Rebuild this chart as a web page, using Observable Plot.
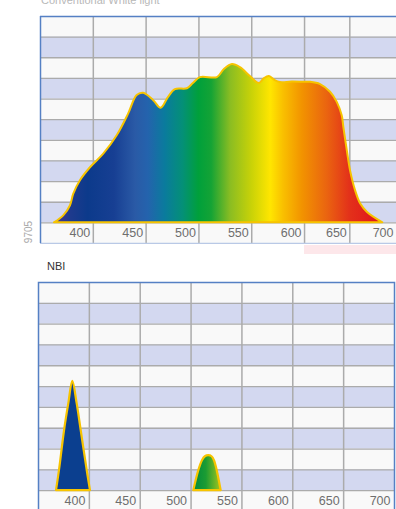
<!DOCTYPE html>
<html><head><meta charset="utf-8">
<script src="https://cdn.jsdelivr.net/npm/d3@7"></script>
<script src="https://cdn.jsdelivr.net/npm/@observablehq/plot@0.6"></script>
<style>
html,body{margin:0;padding:0;background:#fff;width:396px;height:509px;overflow:hidden;font-family:"Liberation Sans",Arial,sans-serif;}
#wrap{position:relative;width:396px;height:509px;overflow:hidden;}
#title{position:absolute;left:41px;top:-5px;font-size:11px;line-height:11px;color:#b8b8b8;white-space:nowrap;}
#code{position:absolute;left:29px;top:232px;font-size:10px;line-height:10px;color:#a8a8a8;transform:translate(-50%,-50%) rotate(-90deg);white-space:nowrap;}
#nbi{position:absolute;left:47px;top:261px;font-size:11px;line-height:11px;color:#333;}
#strip{position:absolute;left:304px;top:245px;width:92px;height:9px;background:#fde7ea;}
#topChart{position:absolute;left:0;top:0;}
#bottomChart{position:absolute;left:0;top:270px;}
</style>
</head><body>
<div id="wrap">
  <div id="title">Conventional White light</div>
  <div id="code">9705</div>
  <div id="strip"></div>
  <div id="nbi">NBI</div>
  <div id="topChart"></div>
  <div id="bottomChart"></div>
</div>
<script>
// ---- data ----
const tickNm = [400, 450, 500, 550, 600, 650, 700];
const gridNm = [400, 450, 500, 550, 600, 650];
const rowIdx = [0, 1, 2, 3, 4, 5, 6, 7, 8, 9];

// white light spectrum
const whiteNm  = [363.2, 372.0, 378.4, 381.5, 387.8, 397.3, 409.9, 422.6, 433.5, 441.5, 447.7, 457.2, 464.2, 471.1, 477.7, 489.1, 494.7, 501.4, 517.5, 524.1, 531.7, 539.3, 548.7, 557.2, 562.0, 566.7, 572.3, 577.0, 588.4, 600.0, 606.6, 617.7, 628.7, 636.1, 641.6, 643.4, 647.2, 650.8, 656.2, 661.7, 669.0, 685.4];
const whiteVal = [0, 0.34, 0.83, 1.39, 2.04, 2.67, 3.33, 4.22, 5.28, 6.17, 6.28, 5.92, 5.55, 6.07, 6.46, 6.50, 6.75, 7.04, 7.04, 7.43, 7.67, 7.52, 7.09, 6.75, 6.99, 7.09, 6.89, 6.80, 6.82, 6.81, 6.81, 6.70, 6.33, 5.84, 5.19, 4.63, 3.50, 2.52, 1.55, 0.91, 0.50, 0];

// NBI peaks
const blueNm  = [367.7, 370.6, 375.6, 379.8, 383.7, 388.0, 392.0, 397.9, 401.1];
const blueVal = [0, 0.96, 2.88, 4.18, 5.25, 4.18, 2.88, 0.96, 0];
const greenNm  = [502.7, 507.6, 511.2, 514.1, 517.4, 520.6, 523.0, 525.7, 529.6];
const greenVal = [0, 0.96, 1.44, 1.63, 1.68, 1.63, 1.44, 0.96, 0];

// gradient colour stops
const whiteStopNm = [363, 378, 395, 420, 440, 452, 468, 485, 500, 512, 530, 550, 568, 580, 598, 625, 650, 685];
const whiteStopColor = ["#4b3391","#1f3a8d","#0c3a8b","#173f93","#2a5aa6","#2463ad","#0a7b9d","#049077","#00a03b","#14a335","#8abd22","#c8d208","#ffe600","#f9c000","#f29300","#ea6410","#e3311a","#e0101c"];
const greenStopNm = [503, 515, 530];
const greenStopColor = ["#008a3d", "#1b9c33", "#a9c61e"];
const blueColor = "#0b3f8f";

// top chart's printed axis is slightly uneven: the 600–650 cell is narrower
const topAxisNm = [350, 600, 650, 700];
const topAxisWarp = [350, 609.6, 654.1, 700];

// ---- styles ----
const LAV = "#d3d8f0", WHITE = "#f9f9f9", GRID = "#ababab", FRAME = "#5580c4", FRAME_LIGHT = "#b9c9e6", OUTLINE = "#f7c400", LABEL = "#6e6e6e";

const zip = (a, b) => a.map((v, i) => ({nm: v, v: b[i]}));

function addGradient(chart, id, nms, colors) {
  const sx = chart.scale("x");
  const x = sx.transform ? (v => sx.apply(sx.transform(v))) : (v => sx.apply(v));
  const ns = "http://www.w3.org/2000/svg";
  const defs = document.createElementNS(ns, "defs");
  const g = document.createElementNS(ns, "linearGradient");
  g.setAttribute("id", id);
  g.setAttribute("gradientUnits", "userSpaceOnUse");
  const x1 = x(nms[0]), x2 = x(nms[nms.length - 1]);
  g.setAttribute("x1", x1); g.setAttribute("x2", x2);
  g.setAttribute("y1", 0); g.setAttribute("y2", 0);
  nms.forEach((n, i) => {
    const st = document.createElementNS(ns, "stop");
    st.setAttribute("offset", (x(n) - x1) / (x2 - x1));
    st.setAttribute("stop-color", colors[i]);
    g.appendChild(st);
  });
  defs.appendChild(g);
  chart.insertBefore(defs, chart.firstChild);
}

function background(xmin, xmax) {
  return [
    Plot.frame({fill: WHITE}),
    Plot.rect(rowIdx.filter(r => r % 2 === 0), {x1: () => xmin, x2: () => xmax, y1: d => d, y2: d => d + 1, fill: LAV}),
    Plot.ruleY(rowIdx, {y: d => d, stroke: GRID, strokeWidth: 1.3}),
    Plot.ruleX(gridNm, {x: d => d, stroke: GRID, strokeWidth: 1.5})
  ];
}
function labels(dx) {
  return Plot.text(tickNm, {x: d => d, y: -0.5, text: d => String(d), textAnchor: "end", dx: dx, fontSize: 12.5, fill: LABEL, fontFamily: "Liberation Sans, Arial, sans-serif"});
}

// ---- top chart (right edge runs off the page, so no right border) ----
const warp = d3.scaleLinear().domain(topAxisNm).range(topAxisWarp);
const topPlot = Plot.plot({
  width: 396, height: 244,
  marginLeft: 40, marginRight: 0, marginTop: 16, marginBottom: 1,
  x: {domain: [350, 700], transform: v => warp(v), axis: null},
  y: {domain: [-1, 10], axis: null},
  marks: [
    ...background(350, 700),
    Plot.areaY(zip(whiteNm, whiteVal), {x: "nm", y: "v", fill: "url(#specGrad)", stroke: OUTLINE, strokeWidth: 2, curve: "catmull-rom"}),
    labels(-3),
    Plot.ruleY([-1], {y: d => d, stroke: FRAME_LIGHT, strokeWidth: 1.5}),
    Plot.ruleY([10], {y: d => d, stroke: FRAME, strokeWidth: 1.5}),
    Plot.ruleX([350], {x: d => d, stroke: FRAME, strokeWidth: 1.5})
  ]
});
addGradient(topPlot, "specGrad", whiteStopNm, whiteStopColor);
document.getElementById("topChart").appendChild(topPlot);

// ---- bottom chart ----
const bottomPlot = Plot.plot({
  width: 396, height: 241,
  marginLeft: 38, marginRight: 2, marginTop: 12, marginBottom: 0,
  x: {domain: [350, 700], axis: null},
  y: {domain: [-1, 10], axis: null},
  marks: [
    ...background(350, 700),
    Plot.areaY(zip(blueNm, blueVal), {x: "nm", y: "v", fill: blueColor, stroke: OUTLINE, strokeWidth: 2.2, curve: "catmull-rom"}),
    Plot.areaY(zip(greenNm, greenVal), {x: "nm", y: "v", fill: "url(#greenGrad)", stroke: OUTLINE, strokeWidth: 2.2, curve: "catmull-rom"}),
    labels(-4),
    Plot.frame({stroke: FRAME, strokeWidth: 1.5})
  ]
});
addGradient(bottomPlot, "greenGrad", greenStopNm, greenStopColor);
document.getElementById("bottomChart").appendChild(bottomPlot);
</script>
</body></html>
